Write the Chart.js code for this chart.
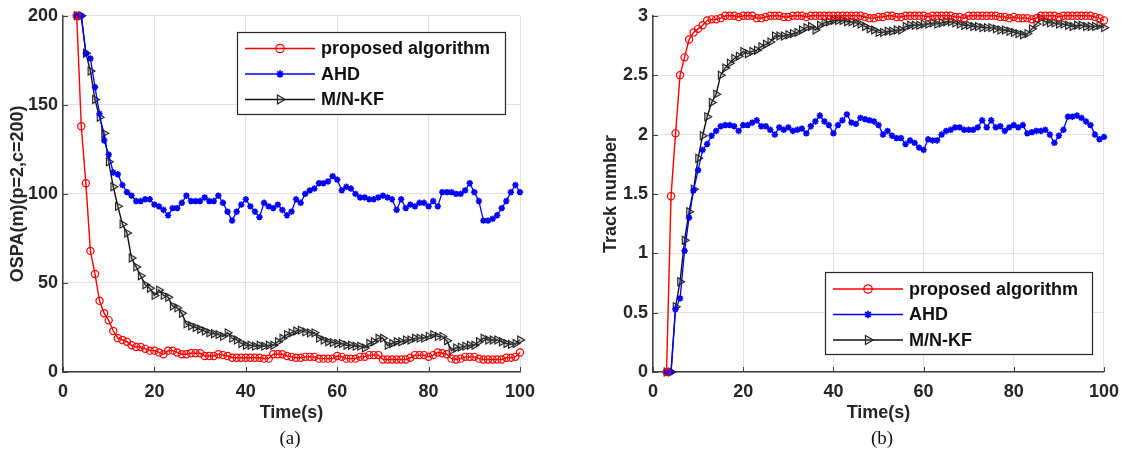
<!DOCTYPE html>
<html>
<head>
<meta charset="utf-8">
<script src="https://cdn.jsdelivr.net/npm/chart.js"></script>
<style>
  html, body { margin: 0; padding: 0; background: #fff; }
  #wrap { position: relative; width: 1128px; height: 452px; overflow: hidden; }
  canvas { position: absolute; top: 0; }
  #cvA { left: 0; }
  #cvB { left: 560px; }
  .cap { position: absolute; top: 427px; width: 60px; text-align: center;
         font: 19px "Liberation Serif", "Times New Roman", serif; color: #111; }
</style>
</head>
<body>
<div id="wrap">
  <canvas id="cvA" width="560" height="452"></canvas>
  <canvas id="cvB" width="568" height="452"></canvas>
  <div class="cap" style="left:260px">(a)</div>
  <div class="cap" style="left:852px">(b)</div>
</div>
<script>
// time steps (s), series start at t = 3
const time = Array.from({ length: 98 }, (_, i) => i + 3);

// OSPA distance (m), p=2, c=200
const ospaProposed = [
  200, 138, 106, 68, 55, 40, 33, 29, 23, 19,
  18, 17, 15, 14, 14, 13, 12, 12, 11, 10,
  12, 12, 11, 10, 10, 10.5, 10.5, 10.5, 9, 9,
  9, 10, 9.5, 9, 8, 8, 8, 8, 8, 8,
  8, 7.5, 7.5, 10, 10, 10, 9, 8.5, 8, 8,
  8.5, 8.5, 8.5, 7.5, 7.5, 7.5, 7.5, 9, 8.5, 7.5,
  7.5, 7.5, 8.5, 8.5, 9.5, 9.5, 9.5, 7, 7, 7,
  7, 7, 7, 8, 9.5, 9.5, 9.5, 8.5, 9.5, 11,
  10.5, 10, 7.5, 7, 7.5, 8.5, 8.5, 8.5, 7.5, 7,
  7, 7, 7, 7, 8, 8, 8.5, 11
];
const ospaAhd = [
  200, 200, 179, 176, 160, 145, 130, 122, 112, 111,
  105, 101, 99, 96, 96, 97, 97, 94, 93, 91,
  88, 92, 92, 95, 99, 96, 96, 96, 98, 96,
  96, 99, 95, 90, 85, 90, 94, 97, 93, 90,
  87, 95, 93, 92, 94, 91, 88, 90, 97, 95,
  100, 102, 103, 106, 106, 107, 110, 108, 102, 104,
  103, 100, 98, 98, 97, 97, 98, 99, 98, 97,
  91, 97, 92, 94, 93, 95, 95, 93, 96, 93,
  101, 101, 101, 100, 100, 102, 106, 101, 96, 85,
  85, 86, 88, 92, 96, 101, 105, 101
];
const ospaMnkf = [
  200, 200, 179, 169, 153, 143, 134, 118, 104, 93,
  83, 78, 64, 59, 54, 49, 47, 43, 46, 43,
  42, 37, 36, 33, 27, 26, 25, 24, 23, 22,
  21.5, 21, 20, 22, 19, 18, 16, 15, 15, 14.5,
  15, 14.5, 15, 15, 17, 19, 21, 22, 23, 23.5,
  22.5, 22, 22, 19, 18, 17, 16.5, 16, 16, 15,
  15, 14.5, 14.5, 13.5, 16, 17, 19, 19, 15, 16,
  17, 17, 18, 18, 19, 19, 19, 20, 21, 20,
  20, 17.5, 12, 13.5, 14, 14.5, 15, 15, 17, 19,
  18, 18, 18, 17, 16, 15.5, 16, 18
];

// number of confirmed tracks
const trackProposed = [
  0, 1.48, 2.01, 2.5, 2.65, 2.8, 2.86, 2.89, 2.92, 2.96,
  2.97, 2.97, 2.98, 3, 3, 3, 2.99, 3, 3, 3,
  2.98, 2.98, 2.99, 3, 3, 3, 2.99, 2.99, 3, 3,
  3, 2.99, 3, 3, 3, 3, 3, 3, 3, 3,
  3, 3, 3, 3, 2.99, 2.98, 2.98, 2.99, 2.99, 3,
  3, 2.99, 2.99, 3, 3, 3, 3, 3, 2.99, 3,
  3, 3, 3, 3, 2.99, 2.99, 2.98, 3, 3, 3,
  3, 3, 3, 3, 2.99, 2.99, 2.98, 2.99, 2.98, 2.98,
  2.98, 2.97, 2.98, 3, 3, 3, 3, 2.99, 3, 3,
  3, 3, 3, 3, 3, 2.99, 2.98, 2.96
];
const trackAhd = [
  0, 0, 0.53, 0.62, 1.02, 1.3, 1.53, 1.7, 1.87, 1.92,
  1.99, 2.03, 2.07, 2.08, 2.08, 2.07, 2.03, 2.08, 2.08, 2.1,
  2.12, 2.07, 2.07, 2.04, 2, 2.06, 2.04, 2.06, 2.03, 2.04,
  2.05, 2.01, 2.07, 2.11, 2.16, 2.11, 2.08, 2.01, 2.08, 2.12,
  2.17, 2.1, 2.09, 2.14, 2.13, 2.12, 2.11, 2.08, 2, 2.03,
  1.99, 1.97, 1.97, 1.92, 1.95, 1.93, 1.89, 1.87, 1.96, 1.95,
  1.95, 2, 2.03, 2.04, 2.06, 2.06, 2.04, 2.04, 2.04, 2.06,
  2.12, 2.06, 2.12, 2.06, 2.07, 2.03, 2.06, 2.08, 2.06, 2.08,
  2.01, 2.02, 2.03, 2.03, 2.04, 2, 1.93, 1.99, 2.04, 2.15,
  2.15, 2.16, 2.14, 2.11, 2.08, 2, 1.96, 1.98
];
const trackMnkf = [
  0, 0, 0.55, 0.76, 1.11, 1.35, 1.54, 1.8, 1.99, 2.15,
  2.27, 2.34, 2.5, 2.56, 2.6, 2.64, 2.66, 2.7, 2.68, 2.7,
  2.71, 2.74, 2.76, 2.78, 2.83, 2.83, 2.83, 2.84, 2.85, 2.86,
  2.88, 2.9, 2.91, 2.88, 2.92, 2.94, 2.95, 2.96, 2.96, 2.96,
  2.95, 2.95, 2.94, 2.93, 2.91, 2.89, 2.88, 2.86, 2.86, 2.87,
  2.87, 2.88, 2.88, 2.91, 2.92, 2.92, 2.92, 2.93, 2.93, 2.94,
  2.93, 2.94, 2.95, 2.95, 2.94, 2.93, 2.92, 2.92, 2.91, 2.91,
  2.9, 2.9, 2.9, 2.89, 2.88, 2.88, 2.87, 2.86, 2.85, 2.84,
  2.85, 2.89, 2.93, 2.98, 2.95, 2.94, 2.94, 2.93, 2.93, 2.92,
  2.91, 2.92, 2.92, 2.91, 2.91, 2.91, 2.92, 2.9
];

const seriesNames = ["proposed algorithm", "AHD", "M/N-KF"];
const xTicks = [0, 20, 40, 60, 80, 100];

const FONT = '"Liberation Sans", Arial, sans-serif';
const TXT = "#262626";
Chart.defaults.font.family = FONT;
Chart.defaults.font.weight = "bold";
Chart.defaults.font.size = 18;
Chart.defaults.color = TXT;

const pts = (vals) => vals.map((v, i) => ({ x: time[i], y: v }));

function makeSets(red, blue, black) {
  return [
    { label: seriesNames[0], data: pts(red), borderColor: "#ff0000", borderWidth: 1.4,
      pointStyle: "circle", pointRadius: 3.6, pointBorderWidth: 1.2,
      pointBackgroundColor: "rgba(0,0,0,0)", pointBorderColor: "#ff0000" },
    { label: seriesNames[1], data: pts(blue), borderColor: "#0000ff", borderWidth: 1.3,
      pointStyle: "star", pointRadius: 3.2, pointBorderWidth: 1.7,
      pointBackgroundColor: "#0000ff", pointBorderColor: "#0000ff" },
    { label: seriesNames[2], data: pts(black), borderColor: "#111111", borderWidth: 1.4,
      pointStyle: "triangle", pointRotation: 90, pointRadius: 4.6, pointBorderWidth: 1.1,
      pointBackgroundColor: "rgba(120,120,120,0.25)", pointBorderColor: "#222222" }
  ];
}

// legend drawn inside the plot area, MATLAB style
const boxLegend = {
  id: "boxLegend",
  afterDraw(chart, args, o) {
    const { ctx } = chart;
    ctx.save();
    ctx.fillStyle = "#fff";
    ctx.fillRect(o.x, o.y, o.w, o.h);
    ctx.strokeStyle = "#262626";
    ctx.lineWidth = 1.2;
    ctx.strokeRect(o.x + 0.5, o.y + 0.5, o.w, o.h);
    chart.data.datasets.forEach((ds, i) => {
      const cy = o.y + o.first + i * o.rowH;
      ctx.strokeStyle = ds.borderColor;
      ctx.lineWidth = ds.borderWidth;
      ctx.beginPath();
      ctx.moveTo(o.x + 8, cy);
      ctx.lineTo(o.x + 78, cy);
      ctx.stroke();
      ctx.fillStyle = ds.pointBackgroundColor;
      ctx.strokeStyle = ds.pointBorderColor;
      ctx.lineWidth = ds.pointBorderWidth;
      Chart.helpers.drawPoint(ctx, {
        pointStyle: ds.pointStyle, rotation: ds.pointRotation || 0,
        radius: ds.pointRadius + 0.6, borderWidth: ds.pointBorderWidth
      }, o.x + 43, cy);
      ctx.fillStyle = "#111";
      ctx.font = "bold 18px " + FONT;
      ctx.textBaseline = "middle";
      ctx.textAlign = "left";
      ctx.fillText(ds.label, o.x + 84, cy + 1);
    });
    ctx.restore();
  }
};

// short tick marks pointing into the axes
const innerTicks = {
  id: "innerTicks",
  beforeDatasetsDraw(chart) {
    const { ctx, chartArea: a, scales: { x, y } } = chart;
    ctx.save();
    ctx.strokeStyle = "#404040";
    ctx.lineWidth = 1;
    ctx.beginPath();
    x.ticks.forEach(t => {
      const px = Math.round(x.getPixelForValue(t.value)) + 0.5;
      ctx.moveTo(px, a.bottom); ctx.lineTo(px, a.bottom - 5);
    });
    y.ticks.forEach(t => {
      const py = Math.round(y.getPixelForValue(t.value)) + 0.5;
      ctx.moveTo(a.left, py); ctx.lineTo(a.left + 5, py);
    });
    ctx.stroke();
    ctx.restore();
  }
};

function axes(yMax, yStep, yTitle, yWidth, yTitlePad) {
  return {
    x: {
      type: "linear", min: 0, max: 100,
      afterBuildTicks: s => { s.ticks = xTicks.map(v => ({ value: v })); },
      ticks: { padding: 9, color: TXT },
      grid: { color: "#e2e2e2", lineWidth: 1, drawTicks: false },
      border: { color: "#404040", width: 1.5 },
      title: { display: true, text: "Time(s)", color: TXT, padding: { top: 0, bottom: 28 } },
      afterFit: s => { s.height = 80; }
    },
    y: {
      min: 0, max: yMax,
      ticks: { stepSize: yStep, padding: 5, color: TXT, callback: v => String(v) },
      grid: { color: "#e2e2e2", lineWidth: 1, drawTicks: false },
      border: { color: "#404040", width: 1.5 },
      title: { display: true, text: yTitle, color: TXT, padding: { top: yTitlePad, bottom: 0 } },
      afterFit: s => { s.width = yWidth; }
    }
  };
}

function build(id, sets, scales, pad, legend) {
  new Chart(document.getElementById(id), {
    type: "line",
    data: { datasets: sets },
    options: {
      responsive: false,
      animation: false,
      devicePixelRatio: 1,
      clip: false,
      layout: { padding: pad },
      elements: { line: { tension: 0 } },
      plugins: { legend: { display: false }, tooltip: { enabled: false }, boxLegend: legend },
      scales: scales
    },
    plugins: [innerTicks, boxLegend]
  });
}

build("cvA", makeSets(ospaProposed, ospaAhd, ospaMnkf),
  axes(200, 50, "OSPA(m)(p=2,c=200)", 63, 7),
  { top: 15, right: 40, left: 0, bottom: 0 },
  { x: 237, y: 32, w: 268, h: 82, first: 16.5, rowH: 25.5 });

build("cvB", makeSets(trackProposed, trackAhd, trackMnkf),
  axes(3, 0.5, "Track number", 93, 40),
  { top: 14, right: 21, left: 0, bottom: 0 },
  { x: 265, y: 272, w: 267, h: 82, first: 17, rowH: 25.5 });
</script>
</body>
</html>
